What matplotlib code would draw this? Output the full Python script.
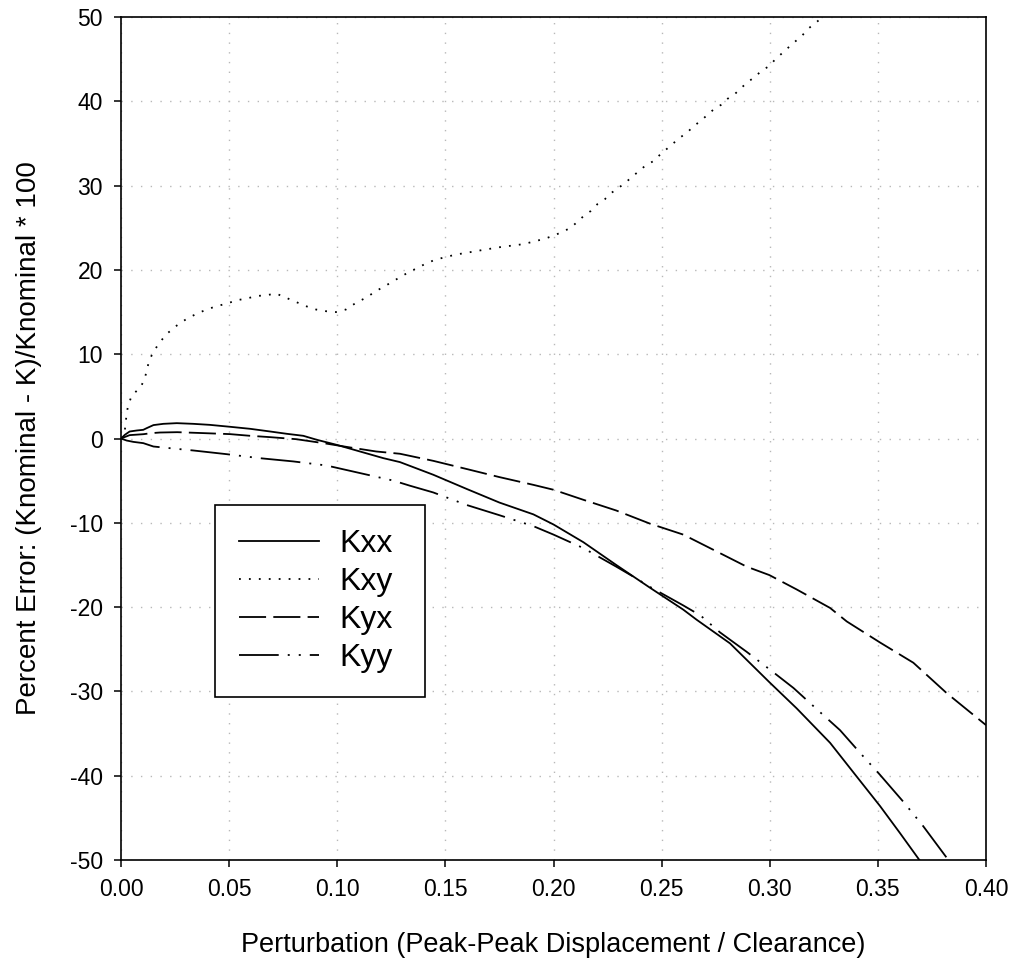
import matplotlib
matplotlib.use("Agg")
import matplotlib.pyplot as plt
from matplotlib.ticker import FormatStrFormatter, MultipleLocator

plt.rcParams['font.family'] = ['Liberation Sans', 'DejaVu Sans']

# ---- data ----
kxx_x = [0, 0.0018, 0.004, 0.0073, 0.0103, 0.0119, 0.015, 0.0196, 0.0258, 0.0334, 0.041, 0.0504,
         0.0597, 0.069, 0.0766, 0.0843, 0.0905, 0.0997, 0.1105, 0.1213, 0.129, 0.1444, 0.16, 0.175,
         0.1907, 0.2, 0.2138, 0.229, 0.2446, 0.26, 0.2662, 0.2816, 0.2998, 0.3124, 0.3279, 0.3402,
         0.351, 0.3602, 0.3692, 0.372]
kxx_y = [0, 0.44, 0.83, 0.95, 1.03, 1.23, 1.59, 1.74, 1.82, 1.74, 1.62, 1.39,
         1.15, 0.83, 0.56, 0.32, -0.15, -0.75, -1.54, -2.33, -2.8, -4.3, -6.0, -7.6,
         -9.0, -10.2, -12.3, -15.0, -17.7, -20.3, -21.5, -24.3, -28.9, -32.0, -36.1, -40.1,
         -43.6, -46.8, -50.0, -50.8]

kxy_x = [0, 0.0017, 0.0022, 0.0026, 0.0034, 0.005, 0.0091, 0.011, 0.0119, 0.013, 0.0148, 0.0176,
         0.0211, 0.0258, 0.0304, 0.035, 0.0396, 0.0442, 0.0489, 0.0535, 0.058, 0.0627, 0.0673,
         0.0717, 0.0763, 0.0809, 0.0855, 0.0902, 0.0948, 0.0994, 0.104, 0.1087, 0.1133, 0.118,
         0.1222, 0.1268, 0.1315, 0.136, 0.1406, 0.1452, 0.1498, 0.1545, 0.159, 0.1637, 0.168,
         0.173, 0.1776, 0.182, 0.1868, 0.1914, 0.196, 0.2004, 0.204, 0.208, 0.211, 0.214, 0.2173,
         0.2203, 0.2238, 0.2266, 0.2298, 0.2332, 0.236, 0.2395, 0.2426, 0.2462, 0.249, 0.2585,
         0.2619, 0.2645, 0.2677, 0.2708, 0.2739, 0.2776, 0.2805, 0.284, 0.2869, 0.2898, 0.2933,
         0.296, 0.2999, 0.3026, 0.3057, 0.3087, 0.3118, 0.315, 0.3177, 0.3212, 0.324, 0.326]
kxy_y = [0, 0.83, 1.9, 3.0, 4.0, 5.1, 6.1, 7.1, 8.1, 9.2, 10.2, 11.3,
         12.4, 13.4, 14.2, 14.8, 15.3, 15.7, 16.0, 16.4, 16.6, 16.9, 17.0,
         17.2, 16.7, 16.2, 15.7, 15.3, 15.1, 15.0, 15.3, 16.1, 16.7, 17.5,
         18.1, 18.8, 19.5, 20.1, 20.7, 21.2, 21.5, 21.8, 22.0, 22.2, 22.4,
         22.6, 22.8, 22.9, 23.1, 23.4, 23.7, 24.1, 24.5, 25.0, 25.7, 26.4, 27.0,
         27.8, 28.4, 29.1, 29.7, 30.3, 31.0, 31.7, 32.4, 32.9, 33.6, 35.7,
         36.3, 37.0, 37.6, 38.3, 39.0, 39.6, 40.3, 40.9, 41.6, 42.3, 42.9,
         43.6, 44.2, 45.0, 45.7, 46.4, 47.1, 47.8, 48.6, 49.3, 49.9, 50.4]

kyx_x = [0, 0.004, 0.0103, 0.0142, 0.018, 0.026, 0.038, 0.0504, 0.0597, 0.069, 0.081, 0.0936,
         0.1059, 0.118, 0.129, 0.1444, 0.16, 0.175, 0.1907, 0.2, 0.2138, 0.229, 0.2446, 0.26,
         0.2739, 0.2893, 0.2998, 0.3124, 0.3279, 0.3356, 0.351, 0.3664, 0.3818, 0.4]
kyx_y = [0, 0.4, 0.51, 0.64, 0.71, 0.75, 0.64, 0.52, 0.32, 0.16, -0.08, -0.55,
         -1.06, -1.54, -1.81, -2.65, -3.63, -4.58, -5.5, -6.08, -7.27, -8.54, -10.1, -11.4,
         -13.2, -15.2, -16.2, -17.9, -20.1, -21.7, -24.2, -26.6, -30.2, -34.0]

kyy_x = [0, 0.0026, 0.0057, 0.0103, 0.015, 0.0227, 0.0334, 0.0489, 0.064, 0.0797, 0.095, 0.1105,
         0.126, 0.1336, 0.1444, 0.16, 0.175, 0.1907, 0.2, 0.2138, 0.229, 0.237, 0.2446, 0.26,
         0.268, 0.277, 0.2893, 0.3, 0.311, 0.3217, 0.3325, 0.3425, 0.351, 0.3618, 0.371, 0.3826,
         0.385]
kyy_y = [0, -0.24, -0.4, -0.55, -0.95, -1.15, -1.42, -1.86, -2.33, -2.72, -3.2, -4.1,
         -5.0, -5.6, -6.4, -7.9, -9.1, -10.4, -11.4, -13.0, -15.2, -16.4, -17.6, -19.8,
         -21.0, -23.0, -25.3, -27.4, -29.6, -32.1, -34.6, -37.5, -39.9, -43.1, -46.0, -50.0,
         -50.7]

series_labels = ["Kxx", "Kxy", "Kyx", "Kyy"]
x_label = "Perturbation (Peak-Peak Displacement / Clearance)"
y_label = "Percent Error: (Knominal - K)/Knominal * 100"

# ---- figure ----
fig = plt.figure(figsize=(10.13, 9.61), dpi=100)
ax = fig.add_axes([121 / 1013, 1 - 860 / 961, 865 / 1013, 843 / 961])

lw = 1.3
ax.plot(kxx_x, kxx_y, color='black', lw=lw, linestyle='-', label=series_labels[0])
ax.plot(kxy_x, kxy_y, color='black', lw=lw, linestyle=(0, (1, 4.5)), label=series_labels[1])
ax.plot(kyx_x, kyx_y, color='black', lw=lw, linestyle=(0, (15, 4)), label=series_labels[2])
ax.plot(kyy_x, kyy_y, color='black', lw=lw, linestyle=(0, (22, 5, 1.1, 5, 1.1, 5)),
        label=series_labels[3])

ax.set_xlim(0, 0.4)
ax.set_ylim(-50, 50)
ax.xaxis.set_major_locator(MultipleLocator(0.05))
ax.yaxis.set_major_locator(MultipleLocator(10))
ax.xaxis.set_major_formatter(FormatStrFormatter('%.2f'))
ax.yaxis.set_major_formatter(FormatStrFormatter('%d'))

ax.grid(True, color='#b8b8b8', linestyle=(0, (1, 6)), linewidth=1.0)
ax.set_axisbelow(True)

for s in ax.spines.values():
    s.set_linewidth(1.2)
    s.set_color('black')

ax.tick_params(axis='both', direction='out', length=5, width=1.1, labelsize=16.5, pad=8,
               top=False, right=False, colors='black')

ax.set_xlabel(x_label, fontsize=19.5, labelpad=22)
ax.set_ylabel(y_label, fontsize=20, labelpad=20)

leg = ax.legend(loc='upper left', bbox_to_anchor=(0.1087, 0.192, 0.2428, 0.229),
                mode='expand', borderaxespad=0, fontsize=23, handlelength=2.5,
                handletextpad=0.63, borderpad=0.75, labelspacing=0.25,
                fancybox=False, framealpha=1, edgecolor='black')
leg.get_frame().set_linewidth(1.2)

fig.savefig('out.png', dpi=100)
